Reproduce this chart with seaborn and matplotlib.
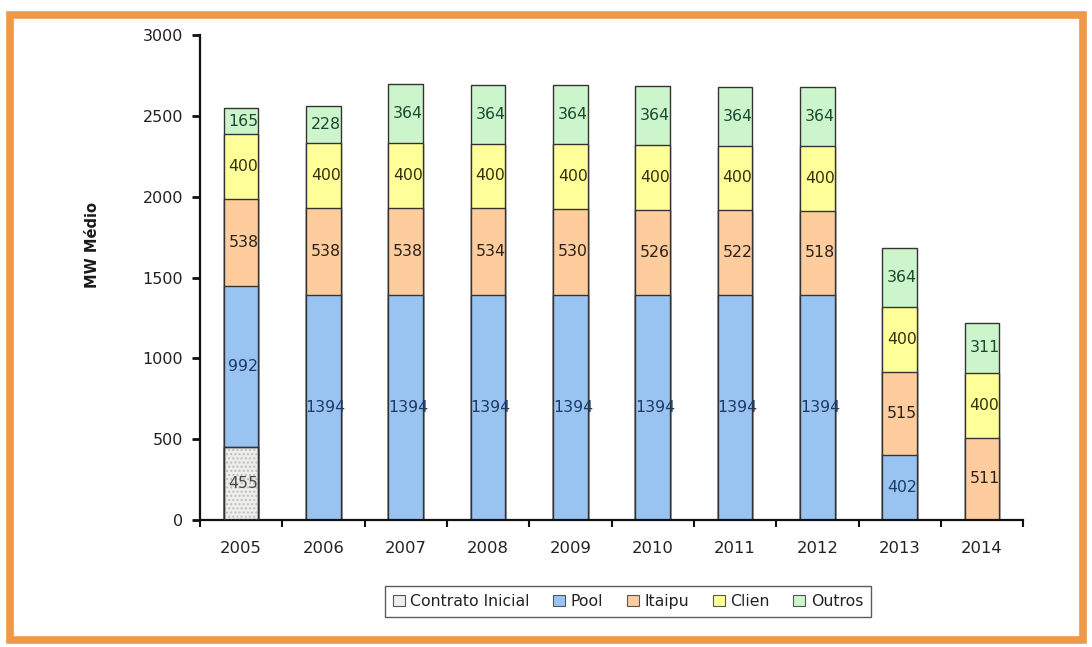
import matplotlib
matplotlib.use("Agg")
import matplotlib.pyplot as plt
from matplotlib.patches import Rectangle, Patch
import numpy as np
import pandas as pd
import seaborn as sns

# Contracted energy by source, average MW per year
years = ["2005", "2006", "2007", "2008", "2009", "2010", "2011", "2012", "2013", "2014"]
contrato_inicial = [455, 0, 0, 0, 0, 0, 0, 0, 0, 0]
pool = [992, 1394, 1394, 1394, 1394, 1394, 1394, 1394, 402, 0]
itaipu = [538, 538, 538, 534, 530, 526, 522, 518, 515, 511]
clien = [400, 400, 400, 400, 400, 400, 400, 400, 400, 400]
outros = [165, 228, 364, 364, 364, 364, 364, 364, 364, 311]

series_names = ["Contrato Inicial", "Pool", "Itaipu", "Clien", "Outros"]
series_values = [contrato_inicial, pool, itaipu, clien, outros]
series_colors = ["#EEEEEA", "#99C4F2", "#FFCC9E", "#FFFF99", "#CCF5CC"]

sns.set_theme(style="white")
plt.rcParams["font.family"] = ["DejaVu Sans"]

fig = plt.figure(figsize=(10.92, 6.47), dpi=100)
ax = fig.add_axes([0.183, 0.196, 0.754, 0.75])

vals = np.array(series_values, dtype=float)
tops = np.cumsum(vals, axis=0)
bottoms = tops - vals
edge = "#333333"
bar_w = 0.42

# Stack by drawing cumulative totals from the top series down
for i in range(len(series_names) - 1, -1, -1):
    df = pd.DataFrame({"year": years, "top": tops[i]})
    sns.barplot(data=df, x="year", y="top", order=years, color=series_colors[i],
                saturation=1, width=bar_w, edgecolor=edge, linewidth=1.0, ax=ax,
                errorbar=None)

# Dotted texture on the initial-contract segment
for j, v in enumerate(contrato_inicial):
    if v > 0:
        ax.bar(j, v, width=bar_w, color="none", edgecolor="#bdbdbd", hatch="....",
               linewidth=0, zorder=3)
        ax.bar(j, v, width=bar_w, color="none", edgecolor=edge, linewidth=1.0, zorder=4)

label_colors = ["#4a4a4a", "#1f3a66", "#2a2218", "#33330a", "#1a4a32"]
for i in range(len(series_names)):
    for j in range(len(years)):
        v = vals[i, j]
        if v > 0:
            ax.text(j + 0.03, bottoms[i, j] + v / 2, f"{int(v)}", ha="center", va="center",
                    fontsize=11.3, color=label_colors[i], zorder=5)

ax.set_xlim(-0.5, len(years) - 0.5)
ax.set_ylim(0, 3000)
ax.set_yticks(np.arange(0, 3001, 500))
ax.set_xticks(np.arange(len(years)))
ax.set_xticklabels(years)
ax.set_xticks(np.arange(-0.5, len(years), 1.0), minor=True)
ax.tick_params(axis="x", which="major", bottom=False, length=0, labelsize=11.8, pad=15,
               labelcolor="#222222")
ax.tick_params(axis="x", which="minor", bottom=True, length=5, width=1.5, color="#111111",
               direction="out")
ax.tick_params(axis="y", left=True, length=6, width=2, color="#111111", direction="out",
               labelsize=11.5, pad=6, labelcolor="#222222")
ax.set_xlabel("")
ax.set_ylabel("MW Médio", fontsize=10.5, fontweight="bold", color="#1a1a1a")
ax.yaxis.set_label_coords(-0.121, 0.567)
for side in ["top", "right"]:
    ax.spines[side].set_visible(False)
for side in ["left", "bottom"]:
    ax.spines[side].set_color("#111111")
    ax.spines[side].set_linewidth(1.6)
ax.grid(False)

handles = [Patch(facecolor=c, edgecolor="#555555", linewidth=0.8) for c in series_colors]
leg = fig.legend(handles, series_names, loc="center", bbox_to_anchor=(0.575, 0.07),
                 ncol=5, fontsize=11.3, frameon=True, fancybox=False, edgecolor="#333333",
                 handlelength=0.75, handleheight=0.75, handletextpad=0.35, columnspacing=1.52,
                 borderpad=0.5, borderaxespad=0)
leg.get_frame().set_linewidth(1.0)
for t in leg.get_texts():
    t.set_color("#222222")

# Orange frame around the chart
fig.patches.append(Rectangle((0.0095, 0.011), 0.982, 0.966, transform=fig.transFigure,
                             fill=False, edgecolor="#EE9848", linewidth=5.5, zorder=10))

fig.savefig("out.png", dpi=100)
